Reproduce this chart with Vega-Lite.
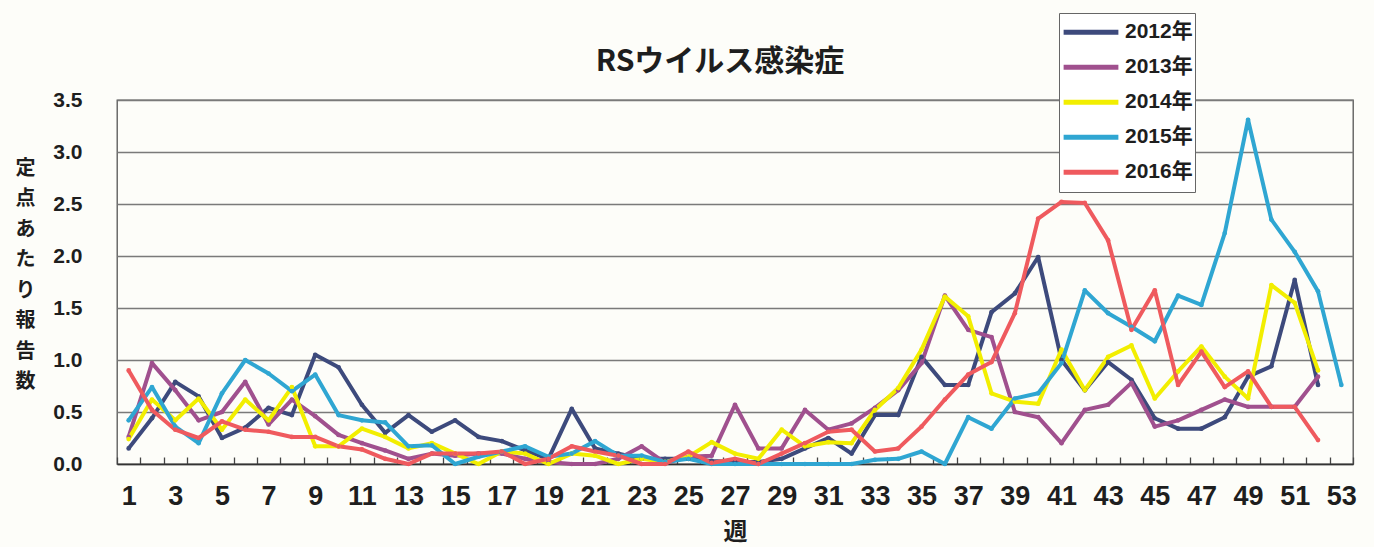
{
  "$schema": "https://vega.github.io/schema/vega-lite/v6.json",
  "width": 1236,
  "height": 364,
  "autosize": "none",
  "padding": {"left": 117, "top": 100, "right": 21, "bottom": 83},
  "background": "#fdfdf9",
  "title": {"text": "RSウイルス感染症", "fontSize": 30, "font": "Noto Sans CJK JP", "fontWeight": "bold", "color": "#1e1e1e", "anchor": "middle", "dx": -15, "dy": 84, "offset": 20},
  "data": {"values": [
    {"year":"2012年","week":1,"value":0.15},{"year":"2012年","week":2,"value":0.44},{"year":"2012年","week":3,"value":0.79},{"year":"2012年","week":4,"value":0.65},{"year":"2012年","week":5,"value":0.25},{"year":"2012年","week":6,"value":0.35},{"year":"2012年","week":7,"value":0.54},{"year":"2012年","week":8,"value":0.47},{"year":"2012年","week":9,"value":1.05},{"year":"2012年","week":10,"value":0.93},{"year":"2012年","week":11,"value":0.57},{"year":"2012年","week":12,"value":0.3},{"year":"2012年","week":13,"value":0.47},{"year":"2012年","week":14,"value":0.31},{"year":"2012年","week":15,"value":0.42},{"year":"2012年","week":16,"value":0.26},{"year":"2012年","week":17,"value":0.22},{"year":"2012年","week":18,"value":0.13},{"year":"2012年","week":19,"value":0.05},{"year":"2012年","week":20,"value":0.53},{"year":"2012年","week":21,"value":0.15},{"year":"2012年","week":22,"value":0.1},{"year":"2012年","week":23,"value":0.05},{"year":"2012年","week":24,"value":0.05},{"year":"2012年","week":25,"value":0.05},{"year":"2012年","week":26,"value":0.03},{"year":"2012年","week":27,"value":0.02},{"year":"2012年","week":28,"value":0.02},{"year":"2012年","week":29,"value":0.05},{"year":"2012年","week":30,"value":0.15},{"year":"2012年","week":31,"value":0.25},{"year":"2012年","week":32,"value":0.1},{"year":"2012年","week":33,"value":0.47},{"year":"2012年","week":34,"value":0.47},{"year":"2012年","week":35,"value":1.03},{"year":"2012年","week":36,"value":0.76},{"year":"2012年","week":37,"value":0.76},{"year":"2012年","week":38,"value":1.46},{"year":"2012年","week":39,"value":1.64},{"year":"2012年","week":40,"value":1.99},{"year":"2012年","week":41,"value":1.0},{"year":"2012年","week":42,"value":0.71},{"year":"2012年","week":43,"value":0.98},{"year":"2012年","week":44,"value":0.81},{"year":"2012年","week":45,"value":0.44},{"year":"2012年","week":46,"value":0.34},{"year":"2012年","week":47,"value":0.34},{"year":"2012年","week":48,"value":0.45},{"year":"2012年","week":49,"value":0.84},{"year":"2012年","week":50,"value":0.94},{"year":"2012年","week":51,"value":1.77},{"year":"2012年","week":52,"value":0.76},
    {"year":"2013年","week":1,"value":0.26},{"year":"2013年","week":2,"value":0.97},{"year":"2013年","week":3,"value":0.71},{"year":"2013年","week":4,"value":0.42},{"year":"2013年","week":5,"value":0.5},{"year":"2013年","week":6,"value":0.79},{"year":"2013年","week":7,"value":0.38},{"year":"2013年","week":8,"value":0.62},{"year":"2013年","week":9,"value":0.46},{"year":"2013年","week":10,"value":0.28},{"year":"2013年","week":11,"value":0.2},{"year":"2013年","week":12,"value":0.13},{"year":"2013年","week":13,"value":0.05},{"year":"2013年","week":14,"value":0.1},{"year":"2013年","week":15,"value":0.08},{"year":"2013年","week":16,"value":0.1},{"year":"2013年","week":17,"value":0.1},{"year":"2013年","week":18,"value":0.05},{"year":"2013年","week":19,"value":0.02},{"year":"2013年","week":20,"value":0.0},{"year":"2013年","week":21,"value":0.0},{"year":"2013年","week":22,"value":0.05},{"year":"2013年","week":23,"value":0.17},{"year":"2013年","week":24,"value":0.01},{"year":"2013年","week":25,"value":0.07},{"year":"2013年","week":26,"value":0.08},{"year":"2013年","week":27,"value":0.57},{"year":"2013年","week":28,"value":0.15},{"year":"2013年","week":29,"value":0.15},{"year":"2013年","week":30,"value":0.52},{"year":"2013年","week":31,"value":0.33},{"year":"2013年","week":32,"value":0.39},{"year":"2013年","week":33,"value":0.54},{"year":"2013年","week":34,"value":0.71},{"year":"2013年","week":35,"value":0.97},{"year":"2013年","week":36,"value":1.62},{"year":"2013年","week":37,"value":1.29},{"year":"2013年","week":38,"value":1.22},{"year":"2013年","week":39,"value":0.5},{"year":"2013年","week":40,"value":0.45},{"year":"2013年","week":41,"value":0.2},{"year":"2013年","week":42,"value":0.52},{"year":"2013年","week":43,"value":0.57},{"year":"2013年","week":44,"value":0.78},{"year":"2013年","week":45,"value":0.36},{"year":"2013年","week":46,"value":0.42},{"year":"2013年","week":47,"value":0.52},{"year":"2013年","week":48,"value":0.62},{"year":"2013年","week":49,"value":0.55},{"year":"2013年","week":50,"value":0.55},{"year":"2013年","week":51,"value":0.55},{"year":"2013年","week":52,"value":0.84},
    {"year":"2014年","week":1,"value":0.24},{"year":"2014年","week":2,"value":0.62},{"year":"2014年","week":3,"value":0.42},{"year":"2014年","week":4,"value":0.63},{"year":"2014年","week":5,"value":0.33},{"year":"2014年","week":6,"value":0.62},{"year":"2014年","week":7,"value":0.42},{"year":"2014年","week":8,"value":0.74},{"year":"2014年","week":9,"value":0.17},{"year":"2014年","week":10,"value":0.17},{"year":"2014年","week":11,"value":0.34},{"year":"2014年","week":12,"value":0.26},{"year":"2014年","week":13,"value":0.15},{"year":"2014年","week":14,"value":0.2},{"year":"2014年","week":15,"value":0.1},{"year":"2014年","week":16,"value":0.0},{"year":"2014年","week":17,"value":0.12},{"year":"2014年","week":18,"value":0.1},{"year":"2014年","week":19,"value":0.0},{"year":"2014年","week":20,"value":0.1},{"year":"2014年","week":21,"value":0.08},{"year":"2014年","week":22,"value":0.0},{"year":"2014年","week":23,"value":0.05},{"year":"2014年","week":24,"value":0.02},{"year":"2014年","week":25,"value":0.07},{"year":"2014年","week":26,"value":0.21},{"year":"2014年","week":27,"value":0.1},{"year":"2014年","week":28,"value":0.05},{"year":"2014年","week":29,"value":0.33},{"year":"2014年","week":30,"value":0.17},{"year":"2014年","week":31,"value":0.21},{"year":"2014年","week":32,"value":0.2},{"year":"2014年","week":33,"value":0.52},{"year":"2014年","week":34,"value":0.73},{"year":"2014年","week":35,"value":1.1},{"year":"2014年","week":36,"value":1.61},{"year":"2014年","week":37,"value":1.42},{"year":"2014年","week":38,"value":0.68},{"year":"2014年","week":39,"value":0.6},{"year":"2014年","week":40,"value":0.58},{"year":"2014年","week":41,"value":1.1},{"year":"2014年","week":42,"value":0.71},{"year":"2014年","week":43,"value":1.03},{"year":"2014年","week":44,"value":1.14},{"year":"2014年","week":45,"value":0.63},{"year":"2014年","week":46,"value":0.89},{"year":"2014年","week":47,"value":1.13},{"year":"2014年","week":48,"value":0.84},{"year":"2014年","week":49,"value":0.63},{"year":"2014年","week":50,"value":1.72},{"year":"2014年","week":51,"value":1.55},{"year":"2014年","week":52,"value":0.9},
    {"year":"2015年","week":1,"value":0.42},{"year":"2015年","week":2,"value":0.74},{"year":"2015年","week":3,"value":0.36},{"year":"2015年","week":4,"value":0.2},{"year":"2015年","week":5,"value":0.68},{"year":"2015年","week":6,"value":1.0},{"year":"2015年","week":7,"value":0.87},{"year":"2015年","week":8,"value":0.7},{"year":"2015年","week":9,"value":0.86},{"year":"2015年","week":10,"value":0.47},{"year":"2015年","week":11,"value":0.42},{"year":"2015年","week":12,"value":0.4},{"year":"2015年","week":13,"value":0.17},{"year":"2015年","week":14,"value":0.18},{"year":"2015年","week":15,"value":0.0},{"year":"2015年","week":16,"value":0.07},{"year":"2015年","week":17,"value":0.12},{"year":"2015年","week":18,"value":0.17},{"year":"2015年","week":19,"value":0.07},{"year":"2015年","week":20,"value":0.1},{"year":"2015年","week":21,"value":0.22},{"year":"2015年","week":22,"value":0.08},{"year":"2015年","week":23,"value":0.08},{"year":"2015年","week":24,"value":0.02},{"year":"2015年","week":25,"value":0.05},{"year":"2015年","week":26,"value":0.0},{"year":"2015年","week":27,"value":0.0},{"year":"2015年","week":28,"value":0.0},{"year":"2015年","week":29,"value":0.0},{"year":"2015年","week":30,"value":0.0},{"year":"2015年","week":31,"value":0.0},{"year":"2015年","week":32,"value":0.0},{"year":"2015年","week":33,"value":0.04},{"year":"2015年","week":34,"value":0.05},{"year":"2015年","week":35,"value":0.12},{"year":"2015年","week":36,"value":0.0},{"year":"2015年","week":37,"value":0.45},{"year":"2015年","week":38,"value":0.34},{"year":"2015年","week":39,"value":0.63},{"year":"2015年","week":40,"value":0.68},{"year":"2015年","week":41,"value":0.97},{"year":"2015年","week":42,"value":1.67},{"year":"2015年","week":43,"value":1.45},{"year":"2015年","week":44,"value":1.32},{"year":"2015年","week":45,"value":1.18},{"year":"2015年","week":46,"value":1.62},{"year":"2015年","week":47,"value":1.53},{"year":"2015年","week":48,"value":2.22},{"year":"2015年","week":49,"value":3.31},{"year":"2015年","week":50,"value":2.35},{"year":"2015年","week":51,"value":2.04},{"year":"2015年","week":52,"value":1.66},{"year":"2015年","week":53,"value":0.76},
    {"year":"2016年","week":1,"value":0.9},{"year":"2016年","week":2,"value":0.52},{"year":"2016年","week":3,"value":0.33},{"year":"2016年","week":4,"value":0.25},{"year":"2016年","week":5,"value":0.41},{"year":"2016年","week":6,"value":0.33},{"year":"2016年","week":7,"value":0.31},{"year":"2016年","week":8,"value":0.26},{"year":"2016年","week":9,"value":0.26},{"year":"2016年","week":10,"value":0.17},{"year":"2016年","week":11,"value":0.14},{"year":"2016年","week":12,"value":0.05},{"year":"2016年","week":13,"value":0.0},{"year":"2016年","week":14,"value":0.1},{"year":"2016年","week":15,"value":0.1},{"year":"2016年","week":16,"value":0.1},{"year":"2016年","week":17,"value":0.12},{"year":"2016年","week":18,"value":0.0},{"year":"2016年","week":19,"value":0.05},{"year":"2016年","week":20,"value":0.17},{"year":"2016年","week":21,"value":0.12},{"year":"2016年","week":22,"value":0.08},{"year":"2016年","week":23,"value":0.0},{"year":"2016年","week":24,"value":0.0},{"year":"2016年","week":25,"value":0.12},{"year":"2016年","week":26,"value":0.01},{"year":"2016年","week":27,"value":0.05},{"year":"2016年","week":28,"value":0.0},{"year":"2016年","week":29,"value":0.1},{"year":"2016年","week":30,"value":0.2},{"year":"2016年","week":31,"value":0.31},{"year":"2016年","week":32,"value":0.33},{"year":"2016年","week":33,"value":0.12},{"year":"2016年","week":34,"value":0.15},{"year":"2016年","week":35,"value":0.36},{"year":"2016年","week":36,"value":0.62},{"year":"2016年","week":37,"value":0.86},{"year":"2016年","week":38,"value":0.98},{"year":"2016年","week":39,"value":1.45},{"year":"2016年","week":40,"value":2.36},{"year":"2016年","week":41,"value":2.52},{"year":"2016年","week":42,"value":2.51},{"year":"2016年","week":43,"value":2.15},{"year":"2016年","week":44,"value":1.29},{"year":"2016年","week":45,"value":1.67},{"year":"2016年","week":46,"value":0.76},{"year":"2016年","week":47,"value":1.08},{"year":"2016年","week":48,"value":0.74},{"year":"2016年","week":49,"value":0.89},{"year":"2016年","week":50,"value":0.55},{"year":"2016年","week":51,"value":0.55},{"year":"2016年","week":52,"value":0.23}
  ]},
  "mark": {"type": "line", "strokeWidth": 4, "strokeJoin": "round", "point": {"size": 22, "filled": true}},
  "encoding": {
    "x": {
      "field": "week", "type": "ordinal",
      "scale": {"type": "band", "paddingInner": 0, "paddingOuter": 0},
      "axis": {
        "title": "週", "titleFont": "Noto Sans CJK JP", "titleFontSize": 24, "titleFontWeight": "bold", "titleColor": "#1e1e1e", "titlePadding": 11,
        "labelAngle": 0, "labelExpr": "datum.value % 2 == 1 ? datum.label : ''",
        "labelFont": "Liberation Sans Narrow, Liberation Sans", "labelFontSize": 27, "labelFontWeight": "bold", "labelColor": "#1e1e1e", "labelPadding": 26,
        "tickBand": "extent", "tickSize": -7, "tickColor": "#444", "tickWidth": 1.3,
        "domainColor": "#333", "domainWidth": 1.5, "grid": false
      }
    },
    "y": {
      "field": "value", "type": "quantitative",
      "scale": {"domain": [0, 3.5]},
      "axis": {
        "title": ["定", "点", "あ", "た", "り", "報", "告", "数"], "titleAngle": 0, "titleFont": "Noto Sans CJK JP", "titleFontSize": 20, "titleFontWeight": "bold", "titleColor": "#1e1e1e", "titleLineHeight": 30.5, "titleAlign": "center", "titleBaseline": "top", "titleX": -92, "titleY": 58,
        "values": [0, 0.5, 1, 1.5, 2, 2.5, 3, 3.5], "format": ".1f",
        "labelFont": "Liberation Sans", "labelFontSize": 21, "labelFontWeight": "bold", "labelColor": "#1e1e1e", "labelPadding": 35,
        "ticks": false, "domain": false, "grid": true, "gridColor": "#7a7a7a", "gridWidth": 1.4
      }
    },
    "color": {
      "field": "year", "type": "nominal",
      "scale": {"domain": ["2012年", "2013年", "2014年", "2015年", "2016年"], "range": ["#3d4a7c", "#a0508e", "#f2ee00", "#2fa6d2", "#ef5a5e"]},
      "legend": {
        "orient": "none", "legendX": 942, "legendY": -87, "title": null, "direction": "vertical",
        "fillColor": "#ffffff", "strokeColor": "#666666", "padding": 2,
        "symbolType": "stroke", "symbolSize": 3000, "symbolStrokeWidth": 5, "clipHeight": 34.6,
        "labelFont": "Liberation Sans, Noto Sans CJK JP", "labelFontSize": 21, "labelFontWeight": "bold", "labelColor": "#1e1e1e", "labelOffset": 4, "rowPadding": 0
      }
    }
  },
  "config": {"view": {"stroke": "#555555", "strokeWidth": 1.3}}
}
